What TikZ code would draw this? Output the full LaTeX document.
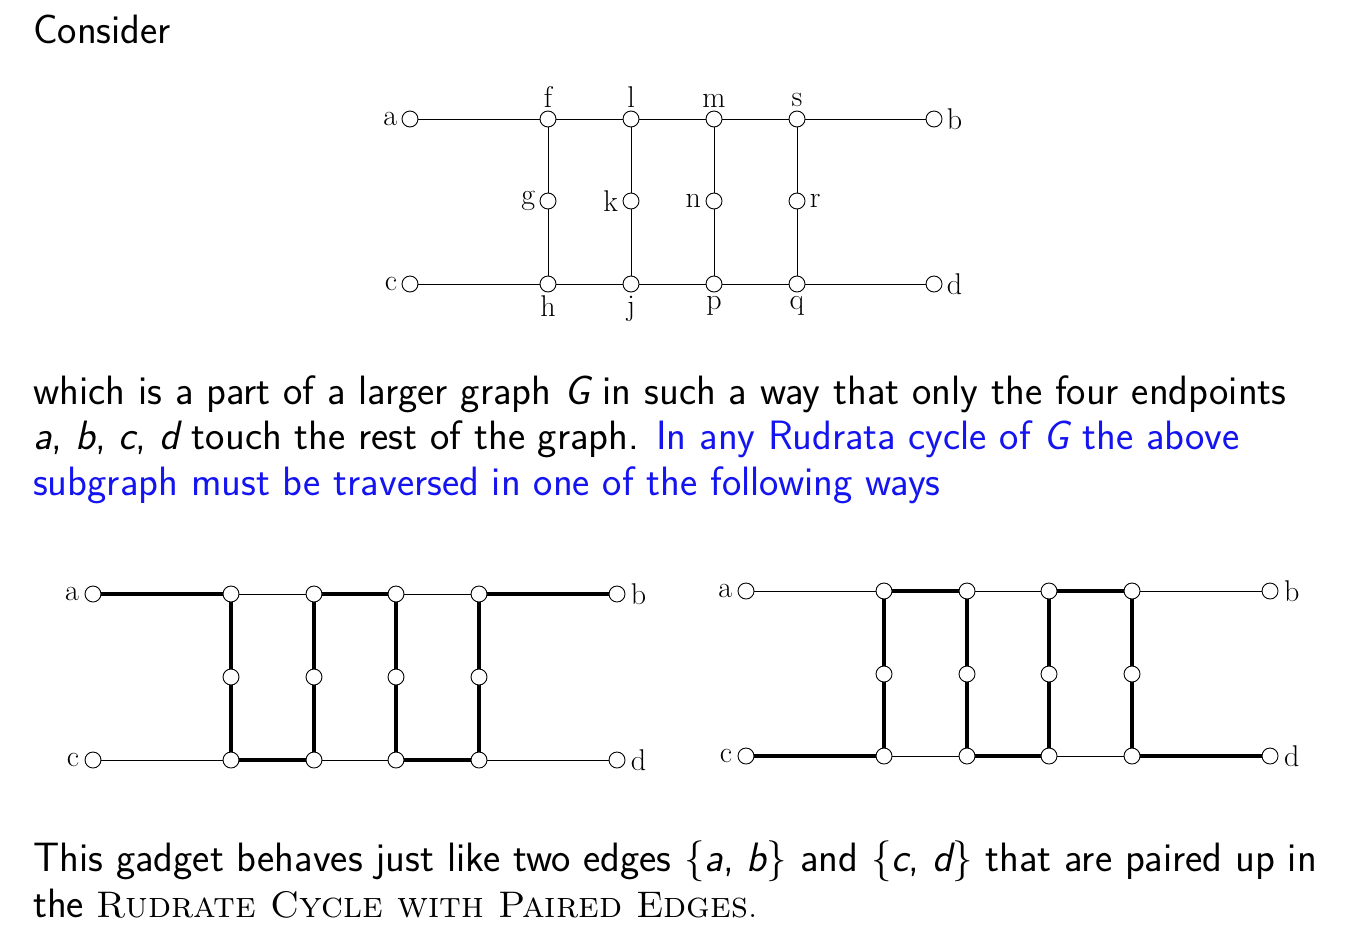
\documentclass[tikz,border=0pt]{standalone}
\usepackage{xcolor}
\definecolor{bblue}{RGB}{20,20,240}
\tikzset{
 v/.style={circle,draw,fill=white,inner sep=0pt,minimum size=16pt,line width=0.9pt},
 lab/.style={font=\fontsize{30}{32}\selectfont},
 thin/.style={line width=0.9pt},
 thick/.style={line width=4pt},
 txt/.style={anchor=base west,inner sep=0pt,font=\sffamily\fontsize{41}{45.5}\selectfont,align=left}
}
\begin{document}
\begin{tikzpicture}[x=1pt,y=-1pt]
\useasboundingbox (0,0) rectangle (1367,951);
\node[txt] (t0) at (33,43) {Consider};
% top graph
\foreach \n/\x/\y in {a/410/119,f/548/119,l/631/119,m/714/119,s/797/119,b/934/119,
 g/548/201,k/631/201,n/714/201,r/797/201,
 c/410/284,h/548/284,j/631/284,p/714/284,q/797/284,d/934/284}
 \coordinate (\n) at (\x,\y);
\draw[thin] (a)--(b) (c)--(d) (f)--(h) (l)--(j) (m)--(p) (s)--(q);
\foreach \n in {a,f,l,m,s,b,g,k,n,r,c,h,j,p,q,d} \node[v] (N\n) at (\n) {};
\node[lab,left=1pt] (La) at (Na.west) {a};
\node[lab,right=1pt] (Lb) at (Nb.east) {b};
\node[lab,left=1pt] (Lc) at (Nc.west) {c};
\node[lab,right=1pt] (Ld) at (Nd.east) {d};
\node[lab,left=1pt] (Lg) at (Ng.west) {g};
\node[lab,left=1pt] (Lk) at (Nk.west) {k};
\node[lab,left=1pt] (Ln) at (Nn.west) {n};
\node[lab,right=1pt] (Lr) at (Nr.east) {r};
\foreach \n in {f,l,m,s} \node[lab,above=0pt] (L\n) at (N\n.north) {\n};
\foreach \n in {h,j,p,q} \node[lab,below=0pt] (L\n) at (N\n.south) {\n};
% paragraph
\node[txt] (t1) at (33,495) {which is a part of a larger graph {\itshape G} in such a way that only the four endpoints\\
{\itshape a}, {\itshape b}, {\itshape c}, {\itshape d} touch the rest of the graph. \textcolor{bblue}{In any Rudrata cycle of {\itshape G} the above}\\
\textcolor{bblue}{subgraph must be traversed in one of the following ways}};
% bottom left
\foreach \n/\x/\y in {A/93/594,B1/231/594,B2/314/594,B3/396/594,B4/479/594,B/617/594,
 M1/231/677,M2/314/677,M3/396/677,M4/479/677,
 C/93/760,D1/231/760,D2/314/760,D3/396/760,D4/479/760,D/617/760}
 \coordinate (\n) at (\x,\y);
\draw[thin] (A)--(B) (C)--(D);
\draw[thick] (A)--(B1) (B2)--(B3) (B4)--(B) (D1)--(D2) (D3)--(D4)
 (B1)--(D1) (B2)--(D2) (B3)--(D3) (B4)--(D4);
\foreach \n in {A,B1,B2,B3,B4,B,M1,M2,M3,M4,C,D1,D2,D3,D4,D} \node[v] (P\n) at (\n) {};
\node[lab,left=2pt] (LA) at (PA.west) {a};
\node[lab,right=2pt] (LB) at (PB.east) {b};
\node[lab,left=2pt] (LC) at (PC.west) {c};
\node[lab,right=2pt] (LD) at (PD.east) {d};
% bottom right
\foreach \n/\x/\y in {RA/746/591,R1/884/591,R2/967/591,R3/1049/591,R4/1132/591,RB/1270/591,
 S1/884/674,S2/967/674,S3/1049/674,S4/1132/674,
 RC/746/756,T1/884/756,T2/967/756,T3/1049/756,T4/1132/756,RD/1270/756}
 \coordinate (\n) at (\x,\y);
\draw[thin] (RA)--(RB) (RC)--(RD);
\draw[thick] (R1)--(R2) (R3)--(R4) (RC)--(T1) (T2)--(T3) (T4)--(RD)
 (R1)--(T1) (R2)--(T2) (R3)--(T3) (R4)--(T4);
\foreach \n in {RA,R1,R2,R3,R4,RB,S1,S2,S3,S4,RC,T1,T2,T3,T4,RD} \node[v] (Q\n) at (\n) {};
\node[lab,left=2pt] (LRA) at (QRA.west) {a};
\node[lab,right=2pt] (LRB) at (QRB.east) {b};
\node[lab,left=2pt] (LRC) at (QRC.west) {c};
\node[lab,right=2pt] (LRD) at (QRD.east) {d};
\node[txt] (t2) at (33,917) {This gadget behaves just like two edges {\rmfamily\textbraceleft}{\itshape a}, {\itshape b}{\rmfamily\textbraceright} and {\rmfamily\textbraceleft}{\itshape c}, {\itshape d}{\rmfamily\textbraceright} that are paired up in\\
the {\rmfamily\fontsize{37}{45.5}\selectfont\textsc{Rudrate Cycle with Paired Edges}.}};
\end{tikzpicture}
\end{document}
